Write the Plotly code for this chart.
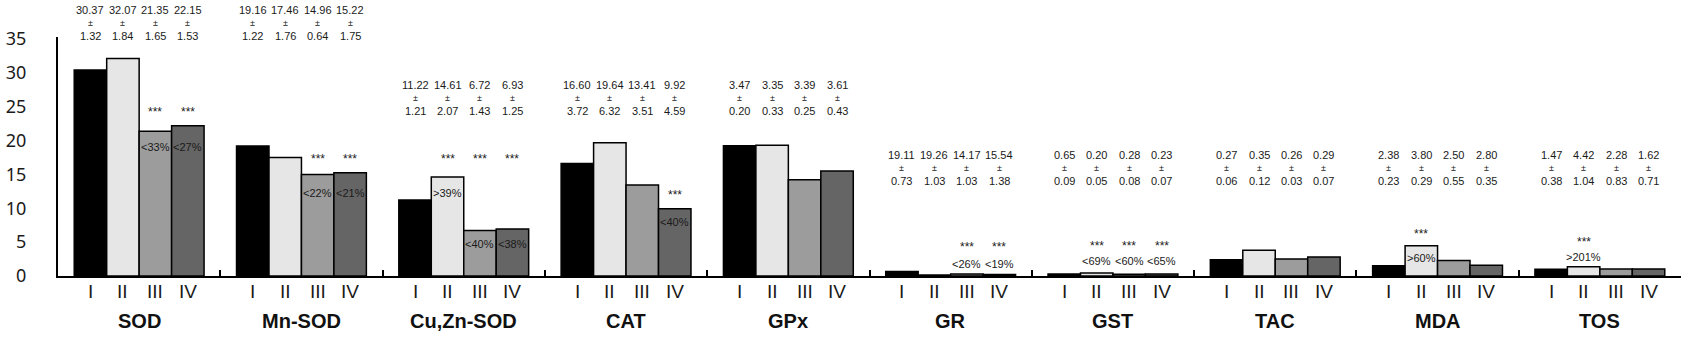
import plotly.graph_objects as go

# ---------------- data ----------------
groups = ["SOD", "Mn-SOD", "Cu,Zn-SOD", "CAT", "GPx", "GR", "GST", "TAC", "MDA", "TOS"]
series_names = ["I", "II", "III", "IV"]

bar_I = [30.37, 19.16, 11.22, 16.60, 19.2, 0.65, 0.30, 2.38, 1.50, 1.00]
bar_II = [32.07, 17.46, 14.61, 19.64, 19.3, 0.15, 0.45, 3.80, 4.45, 1.35]
bar_III = [21.35, 14.96, 6.72, 13.41, 14.2, 0.30, 0.27, 2.50, 2.28, 1.05]
bar_IV = [22.15, 15.22, 6.93, 9.92, 15.5, 0.22, 0.28, 2.80, 1.58, 1.05]

mean_I = ["30.37", "19.16", "11.22", "16.60", "3.47", "19.11", "0.65", "0.27", "2.38", "1.47"]
sd_I = ["1.32", "1.22", "1.21", "3.72", "0.20", "0.73", "0.09", "0.06", "0.23", "0.38"]
mean_II = ["32.07", "17.46", "14.61", "19.64", "3.35", "19.26", "0.20", "0.35", "3.80", "4.42"]
sd_II = ["1.84", "1.76", "2.07", "6.32", "0.33", "1.03", "0.05", "0.12", "0.29", "1.04"]
mean_III = ["21.35", "14.96", "6.72", "13.41", "3.39", "14.17", "0.28", "0.26", "2.50", "2.28"]
sd_III = ["1.65", "0.64", "1.43", "3.51", "0.25", "1.03", "0.08", "0.03", "0.55", "0.83"]
mean_IV = ["22.15", "15.22", "6.93", "9.92", "3.61", "15.54", "0.23", "0.29", "2.80", "1.62"]
sd_IV = ["1.53", "1.75", "1.25", "4.59", "0.43", "1.38", "0.07", "0.07", "0.35", "0.71"]

pct_I = ["", "", "", "", "", "", "", "", "", ""]
pct_II = ["", "", ">39%", "", "", "", "<69%", "", ">60%", ">201%"]
pct_III = ["<33%", "<22%", "<40%", "", "", "<26%", "<60%", "", "", ""]
pct_IV = ["<27%", "<21%", "<38%", "<40%", "", "<19%", "<65%", "", "", ""]

y_ticks = [0, 5, 10, 15, 20, 25, 30, 35]

# ---------------- layout constants (pixel placement of text) ----------------
W, H = 1687, 337
M_L, M_R, M_T, M_B = 53, 6, 37, 61
PLOT_H = H - M_T - M_B
AXIS_PX = M_T + PLOT_H
YMAX = 35.25
BARGAP = 0.2

block_top_px = [10, 10, 85, 85, 85, 155, 155, 155, 155, 155]
star_px = [109, 156, 156, 192.7, None, 244.3, 243.3, None, 231, 239.3]
pct_px_II = [None, None, 192.7, None, None, None, 261, None, 258.3, 257.3]
pct_px_III = [146.7, 192.7, 243.7, None, None, 264, 261, None, None, None]
pct_px_IV = [146.7, 192.7, 243.7, 221.7, None, 264, 261, None, None, None]
pct_px_I = [None] * 10


def paper_y(px):
    return (AXIS_PX - px) / PLOT_H


colors = ["#000000", "#e6e6e6", "#9c9c9c", "#656565"]
bars = [bar_I, bar_II, bar_III, bar_IV]
means = [mean_I, mean_II, mean_III, mean_IV]
sds = [sd_I, sd_II, sd_III, sd_IV]
pcts = [pct_I, pct_II, pct_III, pct_IV]
pct_pxs = [pct_px_I, pct_px_II, pct_px_III, pct_px_IV]

x_idx = list(range(len(groups)))

fig = go.Figure()
for name, vals, col in zip(series_names, bars, colors):
    fig.add_trace(go.Bar(
        x=x_idx, y=vals, name=name,
        marker=dict(color=col, line=dict(color="#000000", width=1.5)),
        showlegend=False, hoverinfo="skip",
    ))

SANS = "Liberation Sans, Arial, sans-serif"
bw = (1 - BARGAP) / 4
num_font = dict(family=SANS, size=11, color="#1a1a1a")
anns = []
for j in range(4):
    for i in range(len(groups)):
        xc = i + (j - 1.5) * bw
        top = block_top_px[i]
        anns.append(dict(x=xc, y=paper_y(top), xref="x", yref="paper", text=means[j][i],
                         showarrow=False, font=num_font, xanchor="center", yanchor="middle"))
        anns.append(dict(x=xc, y=paper_y(top + 13.3), xref="x", yref="paper", text="±",
                         showarrow=False, font=dict(family=SANS, size=9, color="#1a1a1a"),
                         xanchor="center", yanchor="middle"))
        anns.append(dict(x=xc, y=paper_y(top + 26.3), xref="x", yref="paper", text=sds[j][i],
                         showarrow=False, font=num_font, xanchor="center", yanchor="middle"))
        if pcts[j][i]:
            anns.append(dict(x=xc, y=paper_y(star_px[i] + 2.5), xref="x", yref="paper", text="***",
                             showarrow=False, font=dict(family=SANS, size=12, color="#1a1a1a"),
                             xanchor="center", yanchor="middle"))
            anns.append(dict(x=xc, y=paper_y(pct_pxs[j][i]), xref="x", yref="paper", text=pcts[j][i],
                             showarrow=False, font=num_font, xanchor="center", yanchor="middle"))
        # roman numeral category labels
        anns.append(dict(x=xc, y=paper_y(291.5), xref="x", yref="paper", text=series_names[j],
                         showarrow=False, font=dict(family=SANS, size=19, color="#1a1a1a"),
                         xanchor="center", yanchor="middle"))

for i, g in enumerate(groups):
    anns.append(dict(x=i, y=paper_y(321), xref="x", yref="paper", text="<b>" + g + "</b>",
                     showarrow=False, font=dict(family=SANS, size=20, color="#111111"),
                     xanchor="center", yanchor="middle"))

fig.update_layout(
    width=W, height=H,
    margin=dict(l=M_L, r=M_R, t=M_T, b=M_B, pad=0),
    paper_bgcolor="white", plot_bgcolor="white",
    barmode="group", bargap=BARGAP, bargroupgap=0,
    annotations=anns,
    xaxis=dict(
        range=[-0.5, len(groups) - 0.5],
        tickmode="array", tickvals=[k - 0.5 for k in range(len(groups) + 1)],
        showticklabels=False, ticks="inside", ticklen=6, tickwidth=2, tickcolor="#000000",
        showline=True, linecolor="#000000", linewidth=2, showgrid=False, zeroline=False,
    ),
    yaxis=dict(
        range=[0, YMAX], tickmode="array", tickvals=y_ticks,
        showline=True, linecolor="#000000", linewidth=2, showgrid=False, zeroline=False,
        ticks="", ticklabelstandoff=26,
        tickfont=dict(family="Noto Sans, sans-serif", size=18, color="#1a1a1a"),
    ),
)

fig.write_html(
    "out.html",
    config={"displayModeBar": False},
    post_script="document.body.style.margin='0';document.body.style.overflow='hidden';",
)
